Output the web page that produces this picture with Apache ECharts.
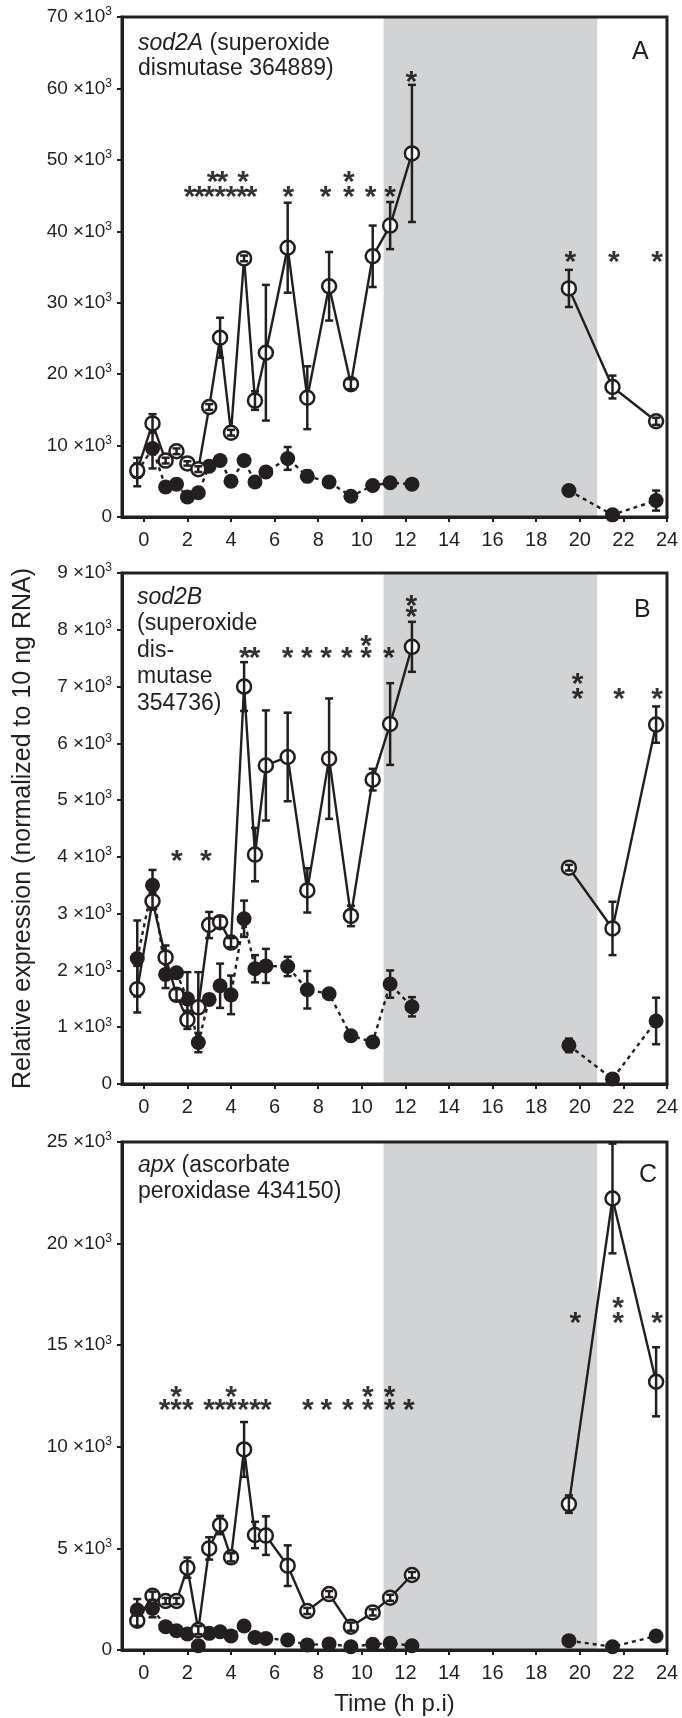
<!DOCTYPE html>
<html>
<head>
<meta charset="utf-8">
<script src="https://cdn.jsdelivr.net/npm/echarts@6/dist/echarts.min.js"></script>
<style>
html, body { margin: 0; padding: 0; background: #fff; }
#chart { width: 682px; height: 1718px; }
</style>
</head>
<body>
<div id="chart"></div>
<script>
// sampling times (h p.i.)
var hours = [-0.3, 0.4, 1, 1.5, 2, 2.5, 3, 3.5, 4, 4.6, 5.1, 5.6, 6.6, 7.5, 8.5, 9.5, 10.5, 11.3, 12.3, 19.5, 21.5, 23.5];
var xTicks = [0, 2, 4, 6, 8, 10, 12, 14, 16, 18, 20, 22, 24];
var darkPeriod = [11, 20.8];

// A : sod2A, values in 10^3
var sod2aOpen = [6.5, 13.1, 7.9, 9.2, 7.5, 6.7, 15.4, 25.1, 11.8, 36.2, 16.3, 23.0, 37.7, 16.7, 32.3, 18.6, 36.5, 40.8, 50.9, 32.0, 18.2, 13.4];
var sod2aOpenErr = [1.0, 1.3, 0.4, 0.4, 0.3, 0.4, 0.4, 2.8, 0.4, 0.4, 1.3, 9.5, 6.3, 4.4, 4.8, 0.7, 4.3, 3.3, 9.6, 2.6, 1.6, 0.5];
var sod2aFilled = [6.3, 9.6, 4.2, 4.6, 2.8, 3.4, 7.1, 7.9, 5.0, 7.9, 4.9, 6.3, 8.2, 5.7, 4.9, 2.9, 4.4, 4.8, 4.6, 3.7, 0.3, 2.3];
var sod2aFilledErr = [2.0, 2.8, 0.4, 0.4, 0.3, 0.3, 0.3, 0.3, 0.3, 0.4, 0.3, 0.5, 1.6, 0.8, 0.3, 0.3, 0.4, 0.3, 0.3, 0.3, 0.3, 1.4];
var sod2aStars = [[2.1, 45.5], [2.55, 45.5], [3.0, 45.5], [3.5, 45.5], [4.0, 45.5], [4.5, 45.5], [4.95, 45.5],
  [3.15, 47.7], [3.6, 47.7], [4.55, 47.7], [6.63, 45.5], [8.34, 45.5], [9.4, 45.5], [9.4, 47.7],
  [10.4, 45.5], [11.3, 45.5], [12.27, 61.6], [19.57, 36.4], [21.56, 36.4], [23.55, 36.4]];

// B : sod2B, values in 10^3
var sod2bOpen = [1.67, 3.22, 2.23, 1.57, 1.13, 1.35, 2.80, 2.85, 2.49, 7.0, 4.04, 5.61, 5.76, 3.41, 5.73, 2.96, 5.36, 6.34, 7.70, 3.81, 2.74, 6.33];
var sod2bOpenErr = [0.41, 0.15, 0.21, 0.1, 0.16, 0.62, 0.23, 0.1, 0.08, 0.43, 0.47, 0.97, 0.78, 0.39, 1.06, 0.18, 0.19, 0.72, 0.44, 0.05, 0.47, 0.32];
var sod2bFilled = [2.21, 3.50, 1.93, 1.96, 1.50, 0.73, 1.49, 1.73, 1.57, 2.91, 2.03, 2.08, 2.07, 1.66, 1.59, 0.85, 0.74, 1.76, 1.36, 0.68, 0.09, 1.11];
var sod2bFilledErr = [0.67, 0.27, 0.24, 0.08, 0.47, 0.17, 0.08, 0.39, 0.34, 0.32, 0.24, 0.3, 0.17, 0.33, 0.05, 0.06, 0.05, 0.24, 0.17, 0.12, 0.05, 0.41];
var sod2bStars = [[1.52, 4.02], [2.85, 4.02], [4.63, 7.59], [5.08, 7.59], [6.6, 7.59], [7.48, 7.59], [8.36, 7.59],
  [9.31, 7.59], [10.2, 7.59], [10.2, 7.8], [11.24, 7.59], [12.27, 8.32], [12.27, 8.52],
  [19.9, 6.88], [19.9, 7.13], [21.8, 6.88], [23.54, 6.88]];

// C : apx, values in 10^3
var apxOpen = [1.44, 2.67, 2.41, 2.41, 4.05, 0.98, 5.0, 6.15, 4.56, 9.87, 5.66, 5.63, 4.15, 1.92, 2.75, 1.15, 1.85, 2.57, 3.69, 7.18, 22.22, 13.2];
var apxOpenErr = [0.25, 0.2, 0.15, 0.15, 0.5, 0.2, 0.55, 0.45, 0.2, 1.35, 0.65, 0.95, 1.0, 0.15, 0.15, 0.2, 0.15, 0.15, 0.15, 0.43, 2.7, 1.7];
var apxFilled = [1.97, 2.05, 1.15, 0.95, 0.79, 0.21, 0.82, 0.9, 0.69, 1.18, 0.62, 0.57, 0.49, 0.25, 0.3, 0.16, 0.28, 0.33, 0.21, 0.46, 0.16, 0.69];
var apxFilledErr = [0.54, 0.44, 0.1, 0.1, 0.1, 0.1, 0.1, 0.1, 0.1, 0.1, 0.1, 0.1, 0.1, 0.1, 0.1, 0.1, 0.1, 0.1, 0.1, 0.1, 0.1, 0.1];
var apxStars = [[0.95, 12.09], [1.48, 12.09], [2.02, 12.09], [1.48, 12.71], [3.0, 12.09], [3.5, 12.09], [4.0, 12.09],
  [4.55, 12.09], [5.1, 12.09], [5.6, 12.09], [4.0, 12.71], [7.52, 12.09], [8.37, 12.09], [9.36, 12.09],
  [10.28, 12.09], [10.28, 12.71], [11.27, 12.09], [11.27, 12.71], [12.16, 12.09],
  [19.8, 16.36], [21.76, 16.36], [21.76, 17.07], [23.54, 16.36]];

var yMax = [70, 9, 25];
var yStep = [10, 1, 5];

var F = 'Liberation Sans, Arial, sans-serif';
var INK = '#231f20';

// break the line where the sampling pauses
function lineData(vals) {
	var out = [];
	hours.forEach(function (h, i) {
		if (i > 0 && h - hours[i - 1] > 5) out.push([(h + hours[i - 1]) / 2, '-']);
		out.push([h, vals[i]]);
	});
	return out;
}

function errData(vals, err) {
	return hours.map(function (h, i) {
		return [h, vals[i] - err[i], vals[i] + err[i]];
	});
}

function errRender(params, api) {
	var x = api.value(0);
	var top = api.coord([x, api.value(2)]);
	var bot = api.coord([x, api.value(1)]);
	var cap = 4;
	var st = { stroke: INK, lineWidth: 2.5 };
	return {
		type: 'group',
		children: [
			{ type: 'line', shape: { x1: top[0], y1: top[1], x2: bot[0], y2: bot[1] }, style: st },
			{ type: 'line', shape: { x1: top[0] - cap, y1: top[1], x2: top[0] + cap, y2: top[1] }, style: st },
			{ type: 'line', shape: { x1: bot[0] - cap, y1: bot[1], x2: bot[0] + cap, y2: bot[1] }, style: st }
		]
	};
}

function bandRender(params, api) {
	var cs = params.coordSys;
	var a = api.coord([api.value(0), 0]);
	var b = api.coord([api.value(1), 0]);
	return {
		type: 'rect',
		shape: { x: a[0], y: cs.y, width: b[0] - a[0], height: cs.height },
		style: { fill: '#d1d3d4' }
	};
}

function fmtY(v) {
	if (v === 0) return '{n|0}';
	return '{n|' + v + ' ×10}{s|3}';
}

var grids = [
	{ left: 122, right: 15, top: 17, height: 500 },
	{ left: 122, right: 15, top: 573, height: 511 },
	{ left: 122, right: 15, top: 1142, height: 508 }
];

var xAxes = [], yAxes = [], series = [];
var panels = [
	[sod2aOpen, sod2aOpenErr, sod2aFilled, sod2aFilledErr, sod2aStars],
	[sod2bOpen, sod2bOpenErr, sod2bFilled, sod2bFilledErr, sod2bStars],
	[apxOpen, apxOpenErr, apxFilled, apxFilledErr, apxStars]
];

panels.forEach(function (p, i) {
	xAxes.push({
		gridIndex: i, type: 'value', min: -1, max: 24, z: 10,
		axisLine: { onZero: false, lineStyle: { color: INK, width: 3 } },
		axisTick: { customValues: xTicks, length: 5, lineStyle: { color: INK, width: 2 } },
		axisLabel: { customValues: xTicks, fontSize: 20, fontFamily: F, color: INK, margin: 13 },
		splitLine: { show: false },
		name: i === 2 ? 'Time (h p.i)' : '',
		nameLocation: 'middle', nameGap: 42,
		nameTextStyle: { fontSize: 24, fontFamily: F, color: INK }
	});
	yAxes.push({
		gridIndex: i, type: 'value', min: 0, max: yMax[i], interval: yStep[i], z: 10,
		axisLine: { show: true, onZero: false, lineStyle: { color: INK, width: 3 } },
		axisTick: { show: true, length: 5, lineStyle: { color: INK, width: 2 } },
		splitLine: { show: false },
		axisLabel: {
			margin: 10, formatter: fmtY,
			rich: {
				n: { fontSize: 19, fontFamily: F, color: INK, lineHeight: 22 },
				s: { fontSize: 12, fontFamily: F, color: INK, verticalAlign: 'top', lineHeight: 12 }
			}
		},
		name: i === 1 ? 'Relative expression (normalized to 10 ng RNA)' : '',
		nameLocation: 'middle', nameRotate: 90, nameGap: 86,
		nameTextStyle: { fontSize: 25, fontFamily: F, color: INK }
	});
	// dark period
	series.push({
		type: 'custom', xAxisIndex: i, yAxisIndex: i, z: 1, silent: true,
		renderItem: bandRender, encode: { x: [0, 1] }, data: [darkPeriod]
	});
	// filled symbols, dashed
	series.push({
		type: 'line', xAxisIndex: i, yAxisIndex: i, z: 2, silent: true,
		data: lineData(p[2]), symbol: 'circle', symbolSize: 15, showSymbol: true,
		lineStyle: { color: INK, width: 2.4, type: [4, 4] },
		itemStyle: { color: INK, borderWidth: 0 }
	});
	series.push({
		type: 'custom', xAxisIndex: i, yAxisIndex: i, z: 3, silent: true,
		renderItem: errRender, encode: { x: 0, y: [1, 2] }, data: errData(p[2], p[3])
	});
	// open symbols, solid
	series.push({
		type: 'line', xAxisIndex: i, yAxisIndex: i, z: 4, silent: true,
		data: lineData(p[0]), symbol: 'circle', symbolSize: 14, showSymbol: true,
		lineStyle: { color: INK, width: 2.4 },
		itemStyle: { color: '#fff', borderColor: INK, borderWidth: 2.5 }
	});
	series.push({
		type: 'custom', xAxisIndex: i, yAxisIndex: i, z: 5, silent: true,
		renderItem: errRender, encode: { x: 0, y: [1, 2] }, data: errData(p[0], p[1])
	});
	// significance marks
	series.push({
		type: 'scatter', xAxisIndex: i, yAxisIndex: i, z: 6, silent: true,
		data: p[4], symbolSize: 1, itemStyle: { color: 'rgba(0,0,0,0)' },
		label: { show: true, position: 'inside', formatter: '*', fontSize: 30, fontWeight: 'bold', fontFamily: F, color: '#000', offset: [0, 6] }
	});
});

function geneTitle(text, left, top, lh) {
	return {
		text: text, left: left, top: top, padding: 0,
		textStyle: {
			fontSize: 23, fontWeight: 'normal', fontFamily: F, color: INK, lineHeight: lh,
			rich: { i: { fontStyle: 'italic', fontSize: 23, fontFamily: F, color: INK, lineHeight: lh } }
		}
	};
}
function letterTitle(text, left, top) {
	return {
		text: text, left: left, top: top, padding: 0,
		textStyle: { fontSize: 25, fontWeight: 'normal', fontFamily: F, color: INK, lineHeight: 26 }
	};
}

var chart = echarts.init(document.getElementById('chart'));
chart.setOption({
	animation: false,
	backgroundColor: '#fff',
	title: [
		geneTitle('{i|sod2A} (superoxide\ndismutase 364889)', 138, 31, 25),
		geneTitle('{i|sod2B}\n(superoxide\ndis-\nmutase\n354736)', 137, 584, 26.5),
		geneTitle('{i|apx} (ascorbate\nperoxidase 434150)', 138, 1152, 26.7),
		letterTitle('A', 632, 39),
		letterTitle('B', 634, 597),
		letterTitle('C', 639, 1162)
	],
	grid: grids.map(function (g) {
		return Object.assign({ show: true, z: 10, borderColor: INK, borderWidth: 3, backgroundColor: 'transparent' }, g);
	}),
	xAxis: xAxes,
	yAxis: yAxes,
	series: series
});
</script>
</body>
</html>
